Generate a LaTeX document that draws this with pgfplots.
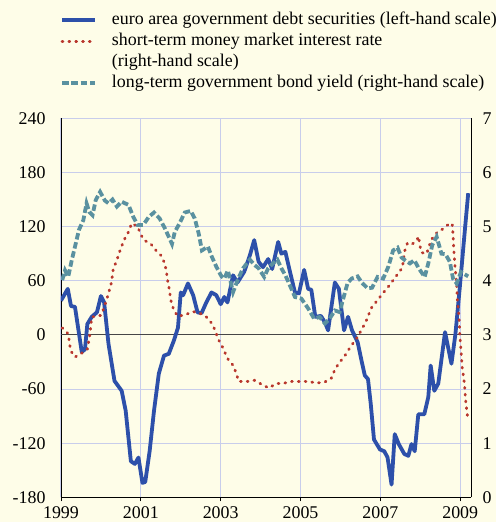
\documentclass[border=0pt]{standalone}
\usepackage{fontspec}
\setmainfont{Liberation Serif}
\usepackage{pgfplots}
\pgfplotsset{compat=1.18}
\definecolor{bg}{RGB}{254,253,232}
\definecolor{gridc}{RGB}{200,205,235}
\definecolor{eablue}{RGB}{45,80,170}
\definecolor{eared}{RGB}{185,55,45}
\definecolor{eateal}{RGB}{90,145,160}
\definecolor{zeroc}{RGB}{70,70,70}
\begin{document}
\begin{tikzpicture}[font=\fontsize{17.9}{21}\selectfont]
\fill[bg] (0,0) rectangle (496pt,522pt);
\useasboundingbox (0,0) rectangle (496pt,522pt);
\pgfplotsset{
  common/.style={
    at={(61pt,24.7pt)}, anchor=south west, scale only axis,
    width=410pt, height=379pt,
    xmin=1999, xmax=2009.27,
    /pgf/number format/assume math mode=true,
    /pgf/number format/1000 sep={},
    tick label style={font=\fontsize{17.9}{21}\selectfont},
    axis line style={-, black, line width=0.9pt},
  },
  reddots/.style={eared, line width=2.8pt, line cap=round, dash pattern=on 0.9pt off 5.9pt},
  tealdash/.style={eateal, line width=3.8pt, dash pattern=on 6.5pt off 2.8pt},
}
\begin{axis}[common,
  ymin=-180, ymax=240,
  axis x line*=bottom, axis y line*=left,
  xtick={1999,2001,2003,2005,2007,2009},
  xticklabels={1999,2001,2003,2005,2007,2009},
  ytick={-180,-120,-60,60,120,180,240},
  extra y ticks={0},
  extra y tick style={grid style={color=zeroc, line width=1pt}},
  grid=major,
  grid style={color=gridc, line width=1pt},
  tick align=outside,
  major tick length=4pt,
  ytick style={draw=none},
  xtick style={draw=black, line width=0.9pt},
  yticklabel style={xshift=-8pt},
  xticklabel style={yshift=-2pt},
  legend style={draw=none, fill=none, at={(rel axis cs:0,1)}, anchor=south west,
    xshift=-1pt, yshift=27pt, inner sep=0pt, row sep=4.9pt, column sep=15pt,
    nodes={inner sep=0pt, text height=12pt, text depth=4pt, font=\fontsize{17.9}{21}\selectfont},
    cells={anchor=west}},
  legend image code/.code={\draw[#1] (0pt,0pt) -- (33pt,0pt);},
]
\addlegendimage{eablue, line width=3.8pt}
\addlegendentry{euro area government debt securities (left-hand scale)}
\addlegendimage{reddots}
\addlegendentry{short-term money market interest rate}
\addlegendimage{empty legend}
\addlegendentry{(right-hand scale)}
\addlegendimage{tealdash}
\addlegendentry{long-term government bond yield (right-hand scale)}
\addplot[eablue, line width=3.8pt, line join=round, forget plot] coordinates {
(1999.0,38) (1999.17,51) (1999.25,32) (1999.35,31) (1999.52,-19) (1999.6,-16)
(1999.66,12) (1999.77,20) (1999.9,25) (2000.0,43) (2000.08,36) (2000.19,-10)
(2000.34,-51) (2000.52,-62) (2000.62,-84) (2000.75,-140) (2000.85,-143) (2000.94,-136)
(2001.04,-164) (2001.11,-163) (2001.22,-129) (2001.33,-84) (2001.45,-43) (2001.58,-23)
(2001.7,-21) (2001.83,-6) (2001.93,8) (2002.0,47) (2002.06,44) (2002.18,57)
(2002.31,44) (2002.42,25) (2002.52,24) (2002.64,36) (2002.77,47) (2002.89,44)
(2003.0,34) (2003.09,42) (2003.17,36) (2003.31,66) (2003.42,58) (2003.59,70)
(2003.73,88) (2003.84,105) (2003.95,81) (2004.06,75) (2004.19,84) (2004.29,73)
(2004.44,103) (2004.52,90) (2004.62,92) (2004.73,71) (2004.86,47) (2004.96,46)
(2005.09,72) (2005.19,51) (2005.27,50) (2005.37,20) (2005.51,21) (2005.61,14)
(2005.69,5) (2005.86,58) (2005.96,51) (2006.09,5) (2006.19,20) (2006.29,5)
(2006.43,-8) (2006.53,-29) (2006.61,-45) (2006.69,-49) (2006.76,-77) (2006.84,-116)
(2006.99,-127) (2007.1,-129) (2007.18,-136) (2007.28,-166) (2007.36,-110) (2007.46,-121)
(2007.6,-132) (2007.7,-134) (2007.78,-121) (2007.86,-129) (2007.95,-88) (2008.1,-88)
(2008.2,-69) (2008.26,-34) (2008.35,-62) (2008.45,-54) (2008.62,3) (2008.78,-32)
(2008.88,1) (2008.99,53) (2009.1,108) (2009.2,157)
};
\end{axis}
\begin{axis}[common,
  ymin=0, ymax=7,
  axis x line=none, axis y line*=right,
  ytick={0,1,...,7},
  ytick style={draw=none},
  major tick length=0pt,
  yticklabel style={xshift=8pt},
]
\addplot[reddots] coordinates {
(1999.03,3.13) (1999.18,3.02) (1999.24,2.71) (1999.35,2.59) (1999.56,2.68) (1999.66,2.74)
(1999.7,2.9) (1999.73,3.05) (1999.77,3.33) (2000.0,3.36) (2000.06,3.47) (2000.14,3.64)
(2000.19,3.77) (2000.25,3.92) (2000.28,4.06) (2000.31,4.22) (2000.4,4.38) (2000.45,4.5)
(2000.52,4.64) (2000.6,4.78) (2000.69,4.9) (2000.77,5.06) (2000.92,5.0) (2001.0,4.85)
(2001.08,4.75) (2001.25,4.68) (2001.39,4.55) (2001.5,4.47) (2001.58,4.35) (2001.64,4.19)
(2001.66,4.04) (2001.7,3.9) (2001.73,3.75) (2001.76,3.61) (2001.83,3.45) (2001.93,3.34)
(2002.14,3.38) (2002.31,3.43) (2002.48,3.4) (2002.64,3.33) (2002.78,3.21) (2002.87,3.07)
(2002.93,2.93) (2003.03,2.8) (2003.12,2.65) (2003.2,2.53) (2003.31,2.44) (2003.39,2.29)
(2003.45,2.14) (2003.67,2.14) (2003.85,2.16) (2004.04,2.08) (2004.2,2.02) (2004.4,2.1)
(2004.6,2.11) (2004.79,2.14) (2004.98,2.14) (2005.2,2.14) (2005.4,2.11) (2005.61,2.13)
(2005.77,2.2) (2005.85,2.34) (2005.96,2.48) (2006.09,2.59) (2006.19,2.71) (2006.32,2.85)
(2006.43,2.96) (2006.53,3.1) (2006.63,3.23) (2006.71,3.38) (2006.79,3.52) (2006.93,3.64)
(2007.05,3.76) (2007.18,3.87) (2007.32,4.01) (2007.43,4.12) (2007.55,4.24) (2007.61,4.55)
(2007.68,4.7) (2007.8,4.68) (2007.9,4.73) (2007.96,4.82) (2007.98,4.68) (2008.03,4.52)
(2008.16,4.5) (2008.22,4.64) (2008.3,4.78) (2008.43,4.9) (2008.6,4.97) (2008.74,5.07)
(2008.8,5.03) (2008.82,4.86) (2008.84,4.56) (2008.87,4.26) (2008.91,3.95) (2008.93,3.64)
(2008.97,3.33) (2008.99,3.02) (2009.02,2.71) (2009.05,2.4) (2009.1,2.13) (2009.12,1.97)
(2009.13,1.82) (2009.18,1.51)
};
\addplot[tealdash] coordinates {
(1999.03,4.01) (1999.1,4.19) (1999.18,4.07) (1999.27,4.38) (1999.37,4.69) (1999.45,4.94)
(1999.56,5.12) (1999.64,5.43) (1999.71,5.27) (1999.79,5.21) (1999.87,5.49) (1999.98,5.64)
(2000.1,5.48) (2000.19,5.43) (2000.29,5.5) (2000.4,5.37) (2000.52,5.46) (2000.69,5.4)
(2000.81,5.18) (2000.92,5.03) (2001.06,5.03) (2001.2,5.18) (2001.33,5.26) (2001.47,5.15)
(2001.6,4.97) (2001.7,4.81) (2001.78,4.68) (2001.85,4.9) (2001.97,5.06) (2002.1,5.26)
(2002.25,5.29) (2002.35,5.15) (2002.45,4.87) (2002.53,4.56) (2002.68,4.63) (2002.78,4.44)
(2002.89,4.26) (2003.02,4.08) (2003.09,4.04) (2003.18,4.19) (2003.31,3.79) (2003.44,4.04)
(2003.56,4.23) (2003.73,4.39) (2003.85,4.29) (2003.95,4.23) (2004.09,4.07) (2004.19,4.23)
(2004.31,4.32) (2004.42,4.39) (2004.52,4.23) (2004.62,4.1) (2004.73,3.92) (2004.86,3.7)
(2005.02,3.67) (2005.19,3.49) (2005.34,3.3) (2005.48,3.33) (2005.61,3.21) (2005.73,3.3)
(2005.86,3.45) (2005.98,3.42) (2006.07,3.67) (2006.18,3.96) (2006.28,4.04) (2006.43,4.08)
(2006.54,3.96) (2006.68,3.86) (2006.79,3.87) (2006.93,4.07) (2007.07,4.04) (2007.2,4.26)
(2007.32,4.56) (2007.43,4.61) (2007.53,4.43) (2007.63,4.37) (2007.74,4.32) (2007.85,4.38)
(2007.96,4.23) (2008.11,4.07) (2008.2,4.32) (2008.3,4.66) (2008.41,4.81) (2008.53,4.5)
(2008.63,4.49) (2008.74,4.35) (2008.82,4.04) (2008.91,3.95) (2009.02,4.16) (2009.2,4.08)
};
\end{axis}
\end{tikzpicture}
\end{document}
